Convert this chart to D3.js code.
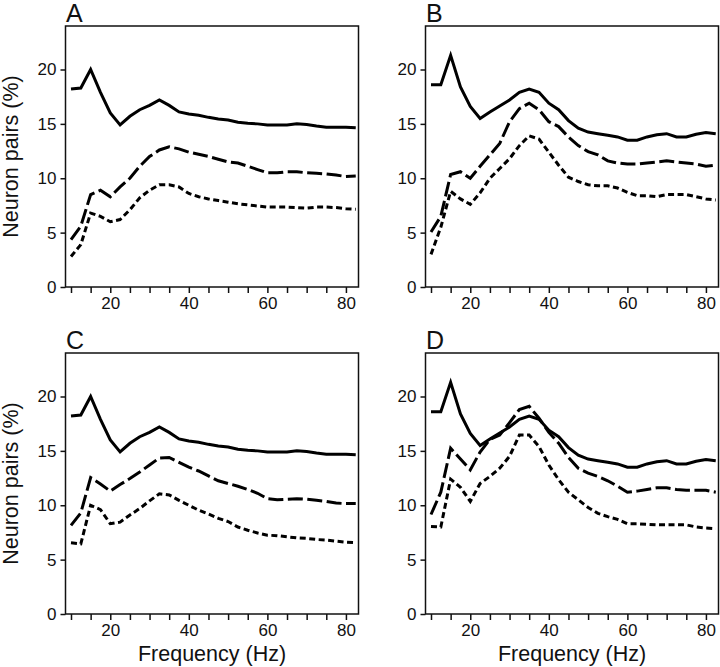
<!DOCTYPE html>
<html>
<head>
<meta charset="utf-8">
<script src="https://cdn.jsdelivr.net/npm/d3@7/dist/d3.min.js"></script>
<style>
  html, body { margin: 0; padding: 0; background: #fff; }
  svg { display: block; }
  text { font-family: "Liberation Sans", Arial, sans-serif; fill: #111; }
</style>
</head>
<body>
<svg id="chart" width="720" height="667"></svg>
<script>
// ---- Data ----
const freq = [10, 12.5, 15, 17.5, 20, 22.5, 25, 27.5, 30, 32.5, 35, 37.5, 40, 42.5, 45,
              47.5, 50, 52.5, 55, 57.5, 60, 62.5, 65, 67.5, 70, 72.5, 75, 77.5, 80, 82.5];

const solidA = [18.2,18.3,20.0,17.9,16.0,14.9,15.7,16.3,16.7,17.2,16.7,16.1,15.9,15.8,15.6,
                15.45,15.35,15.15,15.05,15.0,14.9,14.9,14.9,15.0,14.95,14.8,14.7,14.7,14.7,14.65];
const longA  = [4.35,5.6,8.5,8.9,8.3,9.2,10.0,11.1,12.0,12.6,12.9,12.7,12.4,12.2,12.0,
                11.75,11.5,11.4,11.1,10.8,10.5,10.5,10.6,10.6,10.5,10.45,10.4,10.3,10.15,10.2];
const shortA = [2.8,3.9,6.8,6.5,6.0,6.2,7.1,8.2,8.9,9.4,9.4,9.2,8.6,8.3,8.1,
                7.95,7.8,7.65,7.55,7.45,7.35,7.35,7.35,7.3,7.25,7.35,7.35,7.3,7.2,7.15];

const solidB = [18.6,18.6,21.3,18.4,16.6,15.5,16.1,16.65,17.2,17.9,18.2,17.9,16.9,16.3,15.3,
                14.6,14.25,14.1,13.95,13.8,13.5,13.5,13.8,14.0,14.1,13.8,13.8,14.05,14.2,14.1];
const longB  = [5.05,6.5,10.35,10.6,10.0,11.1,12.15,13.2,15.2,16.4,16.9,16.3,15.2,14.75,13.8,
                13.0,12.45,12.15,11.6,11.4,11.3,11.3,11.4,11.5,11.6,11.5,11.4,11.3,11.1,11.2];
const shortB = [3.0,5.5,8.8,8.1,7.6,8.65,10.0,10.9,11.8,13.0,13.9,13.6,12.4,11.2,10.1,
                9.7,9.4,9.3,9.3,9.1,8.7,8.4,8.4,8.3,8.5,8.5,8.5,8.3,8.1,8.0];

const solidC = [18.2,18.3,20.0,17.9,16.0,14.9,15.7,16.3,16.7,17.2,16.7,16.1,15.9,15.8,15.6,
                15.45,15.35,15.15,15.05,15.0,14.9,14.9,14.9,15.0,14.95,14.8,14.7,14.7,14.7,14.65];
const longC  = [8.15,9.3,12.55,11.95,11.3,11.9,12.45,13.05,13.7,14.35,14.4,13.95,13.5,13.15,12.7,
                12.25,12.0,11.75,11.45,11.1,10.6,10.5,10.55,10.6,10.55,10.45,10.35,10.2,10.15,10.15];
const shortC = [6.55,6.45,10.0,9.6,8.3,8.45,9.1,9.7,10.4,11.05,10.95,10.45,10.0,9.55,9.2,
                8.8,8.5,8.0,7.7,7.45,7.25,7.2,7.1,7.0,6.95,6.85,6.8,6.7,6.6,6.55];

const solidD = [18.6,18.6,21.3,18.4,16.6,15.5,16.1,16.65,17.2,17.9,18.2,17.9,16.9,16.3,15.3,
                14.6,14.25,14.1,13.95,13.8,13.5,13.5,13.8,14.0,14.1,13.8,13.8,14.05,14.2,14.1];
const longD  = [9.15,11.2,15.25,14.25,13.25,14.9,16.05,16.45,17.6,18.8,19.1,18.0,16.7,15.7,14.4,
                13.4,12.95,12.65,12.25,11.75,11.2,11.3,11.45,11.6,11.6,11.45,11.37,11.37,11.37,11.2];
const shortD = [8.05,8.0,12.4,11.65,10.35,12.0,12.65,13.4,14.5,16.45,16.45,15.4,13.7,12.35,11.2,
                10.5,9.8,9.25,8.95,8.7,8.3,8.3,8.25,8.2,8.2,8.2,8.2,8.0,7.9,7.85];

const panelLabels = ["A", "B", "C", "D"];
const yTicks = [0, 5, 10, 15, 20];
const xMinorTicks = [10, 15, 20, 25, 30, 35, 40, 45, 50, 55, 60, 65, 70, 75, 80];
const xTickLabels = [20, 40, 60, 80];
const yTitle = "Neuron pairs (%)";
const xTitle = "Frequency (Hz)";

// ---- Layout ----
const panels = [
  { label: panelLabels[0], x0: 65.5,  y0: 26,  series: [solidA, longA, shortA], yTitle: true,  xTitle: false },
  { label: panelLabels[1], x0: 425.5, y0: 26,  series: [solidB, longB, shortB], yTitle: false, xTitle: false },
  { label: panelLabels[2], x0: 65.5,  y0: 353, series: [solidC, longC, shortC], yTitle: true,  xTitle: true  },
  { label: panelLabels[3], x0: 425.5, y0: 353, series: [solidD, longD, shortD], yTitle: false, xTitle: true  }
];
const W = 293, H = 261;
const dashes = [null, "15,4.5", "6,3.5"];

const svg = d3.select("#chart");

panels.forEach(p => {
  const g = svg.append("g").attr("transform", `translate(${p.x0},${p.y0})`);
  const x = d3.scaleLinear().domain([8.6, 83.2]).range([0, W]);
  const y = d3.scaleLinear().domain([0, 24]).range([H, 0]);

  // frame
  g.append("rect").attr("x", 0).attr("y", 0).attr("width", W).attr("height", H)
    .attr("fill", "none").attr("stroke", "#111").attr("stroke-width", 1.5);

  // y axis
  const ya = g.append("g").call(d3.axisLeft(y).tickValues(yTicks).tickSize(5).tickPadding(4).tickFormat(d3.format("d")));
  ya.select(".domain").remove();
  ya.selectAll("line").attr("stroke", "#111").attr("stroke-width", 1.5);
  ya.selectAll("text").style("font-size", "17px").style("font-family", "Liberation Sans, Arial, sans-serif").attr("fill", "#111");

  // x axis minor ticks
  const xa = g.append("g").attr("transform", `translate(0,${H})`)
    .call(d3.axisBottom(x).tickValues(xMinorTicks).tickSize(6).tickFormat(d => xTickLabels.includes(d) ? d : ""));
  xa.select(".domain").remove();
  xa.selectAll("line").attr("stroke", "#111").attr("stroke-width", 1.5);
  xa.selectAll("text").style("font-size", "17px").style("font-family", "Liberation Sans, Arial, sans-serif")
    .attr("fill", "#111").attr("y", 10);

  // lines
  const line = d3.line().x((d, i) => x(freq[i])).y(d => y(d));
  p.series.forEach((s, k) => {
    g.append("path").datum(s).attr("d", line)
      .attr("fill", "none").attr("stroke", "#000").attr("stroke-width", 3)
      .attr("stroke-linejoin", "miter").attr("stroke-linecap", "butt")
      .attr("stroke-dasharray", dashes[k]);
  });

  // panel label
  svg.append("text").attr("x", p.x0 + 0.5).attr("y", p.y0 - 4)
    .style("font-size", "25px").text(p.label);

  if (p.yTitle) {
    svg.append("text")
      .attr("transform", `translate(18,${p.y0 + H / 2}) rotate(-90)`)
      .attr("text-anchor", "middle").style("font-size", "21.5px").text(yTitle);
  }
  if (p.xTitle) {
    svg.append("text").attr("x", p.x0 + W / 2).attr("y", 661)
      .attr("text-anchor", "middle").style("font-size", "21.5px").text(xTitle);
  }
});
</script>
</body>
</html>
